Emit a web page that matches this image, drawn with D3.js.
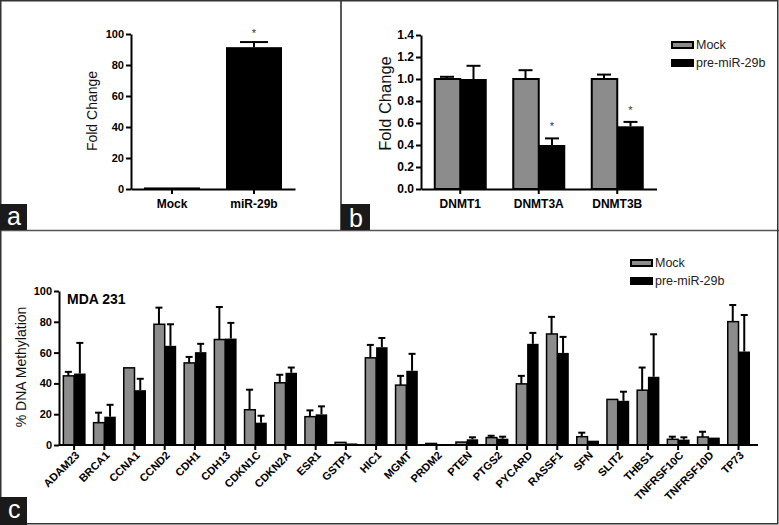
<!DOCTYPE html>
<html><head><meta charset="utf-8">
<script src="https://cdn.jsdelivr.net/npm/d3@7"></script>
<style>
body{margin:0;background:#fff;}
svg{display:block;font-family:"Liberation Sans",Arial,sans-serif;}
</style></head>
<body><svg id="c" width="779" height="525"></svg>
<script>
// ---- Panel a data
const aCats = ["Mock", "miR-29b"];
const aVals = [1, 91.5];
const aErr = [0, 3.3];
const aTicks = [0, 20, 40, 60, 80, 100];

// ---- Panel b data
const bCats = ["DNMT1", "DNMT3A", "DNMT3B"];
const bMock = [1.0, 1.0, 1.0];
const bMockErr = [0.02, 0.08, 0.04];
const bPre = [1.0, 0.40, 0.57];
const bPreErr = [0.12, 0.06, 0.04];
const bStar = [false, true, true];
const bTicks = [0, 0.2, 0.4, 0.6, 0.8, 1.0, 1.2, 1.4];

// ---- Panel c data
const cGenes = ["ADAM23","BRCA1","CCNA1","CCND2","CDH1","CDH13","CDKN1C","CDKN2A","ESR1","GSTP1","HIC1","MGMT","PRDM2","PTEN","PTGS2","PYCARD","RASSF1","SFN","SLIT2","THBS1","TNFRSF10C","TNFRSF10D","TP73"];
const cMock = [44.9,14.5,50.1,78.4,53.3,68.5,22.9,40.4,18.4,1.7,56.6,38.9,1.0,1.9,4.8,39.7,72.1,5.4,29.6,35.6,3.7,5.2,80.1];
const cMockErr = [2.6,6.5,0,10.8,3.9,21.1,13.0,5.2,4.1,0,8.4,6.0,0,0,1.2,5.2,11.1,2.6,0,14.7,1.7,3.4,10.8];
const cPre = [46.4,18.4,35.6,64.4,60.3,69.1,14.5,46.9,19.9,1.0,63.5,48.2,0,3.7,4.1,65.7,59.8,2.8,28.7,44.3,3.5,4.8,60.7];
const cPreErr = [19.9,7.7,7.4,14.0,5.4,10.2,4.5,3.4,5.2,0,6.0,11.0,0,1.3,1.3,7.1,10.4,0,5.9,27.6,1.5,0,23.7];
const cTicks = [0, 20, 40, 60, 80, 100];
const seriesNames = ["Mock", "pre-miR-29b"];

const GRAY = "#8c8c8c";
const svg = d3.select("#c");

function styleAxis(g, fs, bold) {
  g.selectAll(".domain").attr("stroke", "#000").attr("stroke-width", 2);
  g.selectAll(".tick line").attr("stroke", "#000").attr("stroke-width", 2);
  g.selectAll(".tick text").attr("fill", "#000").style("font-size", fs + "px")
    .style("font-weight", bold ? "bold" : "normal")
    .style("font-family", '"Liberation Sans",Arial,sans-serif');
}

function errBar(g, cx, y0, y1, cap) {
  if (Math.abs(y1 - y0) < 0.5) return;
  g.append("line").attr("x1", cx).attr("x2", cx).attr("y1", y0).attr("y2", y1)
    .attr("stroke", "#000").attr("stroke-width", 2);
  g.append("line").attr("x1", cx - cap / 2).attr("x2", cx + cap / 2).attr("y1", y1).attr("y2", y1)
    .attr("stroke", "#000").attr("stroke-width", 2);
}

// ================= Panel a =================
{
  const g = svg.append("g");
  const x = d3.scaleBand().domain(aCats).range([131, 295]);
  const y = d3.scaleLinear().domain([0, 100]).range([189, 34]);
  const bw = 56;
  aCats.forEach((c, i) => {
    const cx = x(c) + x.bandwidth() / 2;
    errBar(g, cx, y(aVals[i]), y(aVals[i] + aErr[i]), 28);
    g.append("rect").attr("x", cx - bw / 2).attr("y", y(aVals[i]))
      .attr("width", bw).attr("height", y(0) - y(aVals[i])).attr("fill", "#000");
  });
  g.append("text").attr("x", x("miR-29b") + x.bandwidth() / 2).attr("y", 37)
    .attr("text-anchor", "middle").style("font-size", "11px").attr("fill", "#333").text("*");
  const ya = g.append("g").attr("transform", "translate(131,0)")
    .call(d3.axisLeft(y).tickValues(aTicks).tickSize(5).tickSizeOuter(0).tickPadding(2));
  styleAxis(ya, 11, true);
  const xa = g.append("g").attr("transform", "translate(0,189)")
    .call(d3.axisBottom(x).tickSize(5).tickSizeOuter(0).tickPadding(5));
  styleAxis(xa, 12, true);
  g.append("text").attr("transform", "translate(97,111) rotate(-90)")
    .attr("text-anchor", "middle").style("font-size", "14px").attr("fill", "#111").text("Fold Change");
}

// ================= Panel b =================
{
  const g = svg.append("g");
  const x = d3.scaleBand().domain(bCats).range([421, 656.5]);
  const y = d3.scaleLinear().domain([0, 1.4]).range([189, 35]);
  const bw = 26.5;
  bCats.forEach((c, i) => {
    const cx = x(c) + x.bandwidth() / 2;
    const mx = cx - bw / 2, px = cx + bw / 2;
    errBar(g, mx, y(bMock[i]), y(bMock[i] + bMockErr[i]), 14);
    errBar(g, px, y(bPre[i]), y(bPre[i] + bPreErr[i]), 14);
    g.append("rect").attr("x", cx - bw + 1).attr("y", y(bMock[i]))
      .attr("width", bw - 1).attr("height", y(0) - y(bMock[i]))
      .attr("fill", GRAY).attr("stroke", "#000").attr("stroke-width", 2);
    g.append("rect").attr("x", cx).attr("y", y(bPre[i]))
      .attr("width", bw).attr("height", y(0) - y(bPre[i])).attr("fill", "#000");
    if (bStar[i]) {
      g.append("text").attr("x", px).attr("y", y(bPre[i] + bPreErr[i]) - 8)
        .attr("text-anchor", "middle").style("font-size", "11px").attr("fill", "#333").text("*");
    }
  });
  const ya = g.append("g").attr("transform", "translate(421,0)")
    .call(d3.axisLeft(y).tickValues(bTicks).tickFormat(d3.format(".1f")).tickSize(5).tickSizeOuter(0).tickPadding(2));
  styleAxis(ya, 12, true);
  const xa = g.append("g").attr("transform", "translate(0,189)")
    .call(d3.axisBottom(x).tickSize(5).tickSizeOuter(0).tickPadding(5));
  styleAxis(xa, 12, true);
  g.append("text").attr("transform", "translate(391,103.5) rotate(-90)")
    .attr("text-anchor", "middle").style("font-size", "16.5px").attr("fill", "#111").text("Fold Change");
  // legend
  const lg = g.append("g");
  [[41, GRAY], [59, "#000"]].forEach((d, i) => {
    lg.append("rect").attr("x", 672).attr("y", d[0] + 1).attr("width", 21).attr("height", 6)
      .attr("fill", d[1]).attr("stroke", "#000").attr("stroke-width", 2);
    lg.append("text").attr("x", 696).attr("y", d[0] + 8).style("font-size", "12.5px")
      .attr("fill", "#222").text(seriesNames[i]);
  });
}

// ================= Panel c =================
{
  const g = svg.append("g");
  const x = d3.scaleBand().domain(cGenes).range([59, 753.6]);
  const y = d3.scaleLinear().domain([0, 100]).range([445, 291]);
  const bw = 11.5;
  cGenes.forEach((c, i) => {
    const cx = x(c) + x.bandwidth() / 2;
    const mx = cx - bw / 2, px = cx + bw / 2;
    errBar(g, mx, y(cMock[i]), y(cMock[i] + cMockErr[i]), 7);
    errBar(g, px, y(cPre[i]), y(cPre[i] + cPreErr[i]), 7);
    if (cMock[i] > 0)
      g.append("rect").attr("x", cx - bw + 0.75).attr("y", y(cMock[i]))
        .attr("width", bw - 0.75).attr("height", y(0) - y(cMock[i]))
        .attr("fill", GRAY).attr("stroke", "#000").attr("stroke-width", 1.5);
    if (cPre[i] > 0)
      g.append("rect").attr("x", cx).attr("y", y(cPre[i]))
        .attr("width", bw).attr("height", y(0) - y(cPre[i])).attr("fill", "#000");
  });
  const ya = g.append("g").attr("transform", "translate(59,0)")
    .call(d3.axisLeft(y).tickValues(cTicks).tickSize(5).tickSizeOuter(0).tickPadding(2));
  styleAxis(ya, 11, true);
  const xa = g.append("g").attr("transform", "translate(0,445)")
    .call(d3.axisBottom(x).tickSize(5).tickSizeOuter(0));
  styleAxis(xa, 11, true);
  xa.select(".domain").attr("d", "M59,0H758");
  xa.selectAll(".tick text").attr("x", 0).attr("y", 0).attr("dy", 0)
    .attr("text-anchor", "end").attr("transform", "translate(6,11) rotate(-45)");
  g.append("text").attr("transform", "translate(26,367) rotate(-90)")
    .attr("text-anchor", "middle").style("font-size", "14px").attr("fill", "#111").text("% DNA Methylation");
  g.append("text").attr("x", 67).attr("y", 304).style("font-size", "14px")
    .style("font-weight", "bold").text("MDA 231");
  const lg = g.append("g");
  [[259, GRAY], [277, "#000"]].forEach((d, i) => {
    lg.append("rect").attr("x", 631).attr("y", d[0] + 1).attr("width", 21).attr("height", 6)
      .attr("fill", d[1]).attr("stroke", "#000").attr("stroke-width", 2);
    lg.append("text").attr("x", 655).attr("y", d[0] + 8).style("font-size", "12.5px")
      .attr("fill", "#222").text(seriesNames[i]);
  });
}

// ================= Frame and panel letters =================
svg.append("line").attr("x1", 0).attr("x2", 779).attr("y1", 230.5).attr("y2", 230.5)
  .attr("stroke", "#555").attr("stroke-width", 1.5);
svg.append("line").attr("x1", 341).attr("x2", 341).attr("y1", 0).attr("y2", 230)
  .attr("stroke", "#222").attr("stroke-width", 1.5);
svg.append("rect").attr("x", 0.75).attr("y", 0.75).attr("width", 777).attr("height", 523)
  .attr("fill", "none").attr("stroke", "#333").attr("stroke-width", 1.5);
[["a", 0, 204, 27, 26, 7, 225], ["b", 341, 204, 29, 26, 349, 227], ["c", 0, 497, 27, 28, 8, 518]]
  .forEach(d => {
    svg.append("rect").attr("x", d[1]).attr("y", d[2]).attr("width", d[3]).attr("height", d[4]).attr("fill", "#1a1a1a");
    svg.append("text").attr("x", d[5]).attr("y", d[6]).attr("fill", "#fff")
      .style("font-size", "25px").text(d[0]);
  });
</script></body></html>
